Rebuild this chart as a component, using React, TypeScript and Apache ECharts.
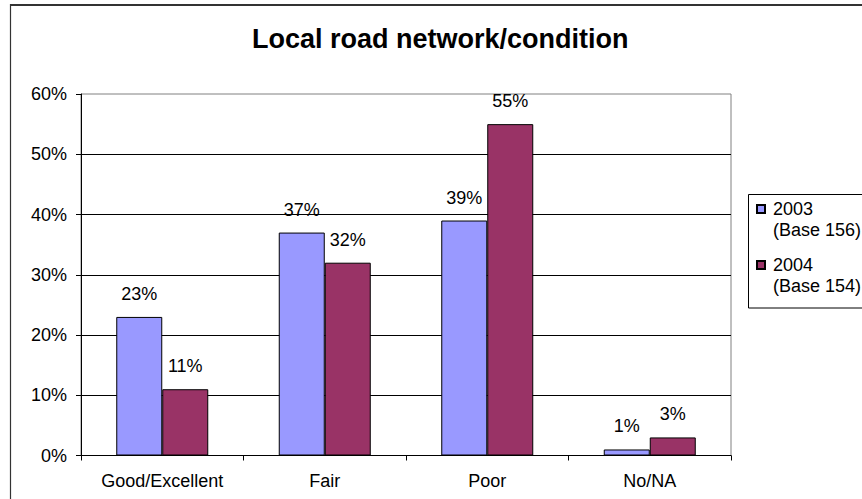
import React, { useEffect, useRef } from "react";
import * as echarts from "echarts";

const categories = ["Good/Excellent", "Fair", "Poor", "No/NA"];
const values2003 = [23, 37, 39, 1];
const values2004 = [11, 32, 55, 3];
const seriesNames = ["2003", "2004"];
const seriesBases = ["(Base 156)", "(Base 154)"];
const yTicks = { min: 0, max: 60, interval: 10 };
const titleText = "Local road network/condition";

const FONT = "'Liberation Sans', Arial, sans-serif";

export default function App() {
  const ref = useRef<HTMLDivElement>(null);
  useEffect(() => {
    document.body.style.margin = "0";
    const chart = echarts.init(ref.current!, undefined, { renderer: "svg" });
    const baseOf: Record<string, string> = {};
    seriesNames.forEach((n, i) => (baseOf[n] = seriesBases[i]));
    const label = {
      show: true,
      position: "top" as const,
      distance: 14,
      formatter: "{c}%",
      color: "#000",
      fontSize: 18,
      fontFamily: FONT,
    };
    chart.setOption({
      animation: false,
      backgroundColor: "#fff",
      textStyle: { fontFamily: FONT },
      title: {
        text: titleText,
        left: 252,
        top: 25,
        padding: 0,
        textStyle: { fontSize: 27, fontWeight: "bold", color: "#000", fontFamily: FONT },
      },
      legend: {
        orient: "vertical",
        left: 756,
        top: 177.5,
        padding: 0,
        itemGap: -7,
        itemWidth: 8,
        itemHeight: 8,
        icon: "rect",
        data: seriesNames,
        formatter: (name: string) => "\n" + name + "\n" + baseOf[name],
        textStyle: { fontSize: 18, lineHeight: 21, color: "#000", fontFamily: FONT, padding: [0, 0, 0, 3] },
      },
      grid: {
        left: 81,
        top: 94,
        width: 650,
        height: 361.5,
        show: true,
        borderColor: "#808080",
        borderWidth: 1,
        backgroundColor: "transparent",
      },
      xAxis: {
        type: "category",
        data: categories,
        axisLine: { lineStyle: { color: "#000", width: 1 } },
        axisTick: { show: true, alignWithLabel: false, length: 5, lineStyle: { color: "#000" } },
        axisLabel: { color: "#000", fontSize: 18, margin: 16, fontFamily: FONT },
        splitLine: { show: false },
      },
      yAxis: {
        type: "value",
        min: yTicks.min,
        max: yTicks.max,
        interval: yTicks.interval,
        axisLine: { show: true, lineStyle: { color: "#000", width: 1 } },
        axisTick: { show: true, length: 5, lineStyle: { color: "#000" } },
        axisLabel: { color: "#000", fontSize: 18, margin: 14, formatter: "{value}%", fontFamily: FONT },
        splitLine: { show: true, showMaxLine: false, showMinLine: false, lineStyle: { color: "#000", width: 1 } },
      },
      series: [
        {
          name: seriesNames[0],
          type: "bar",
          data: values2003,
          barWidth: 46,
          barGap: "0%",
          itemStyle: { color: "#9999FF", borderColor: "#000", borderWidth: 1 },
          label,
        },
        {
          name: seriesNames[1],
          type: "bar",
          data: values2004,
          barWidth: 46,
          barGap: "0%",
          itemStyle: { color: "#993366", borderColor: "#000", borderWidth: 1 },
          label,
        },
      ],
      graphic: [
        { type: "line", shape: { x1: 10, y1: 5, x2: 900, y2: 5 }, style: { stroke: "#333", lineWidth: 2 }, silent: true },
        { type: "line", shape: { x1: 10.5, y1: 4, x2: 10.5, y2: 600 }, style: { stroke: "#333", lineWidth: 1.2 }, silent: true },
        {
          type: "rect",
          shape: { x: 748.5, y: 194.5, width: 200, height: 113.5 },
          style: { fill: "transparent", stroke: "#000", lineWidth: 1 },
          silent: true,
          z: -1,
        },
      ],
    });
    return () => chart.dispose();
  }, []);
  return (
    <div
      ref={ref}
      style={{ position: "fixed", left: 0, top: 0, width: 862, height: 499 }}
    />
  );
}
